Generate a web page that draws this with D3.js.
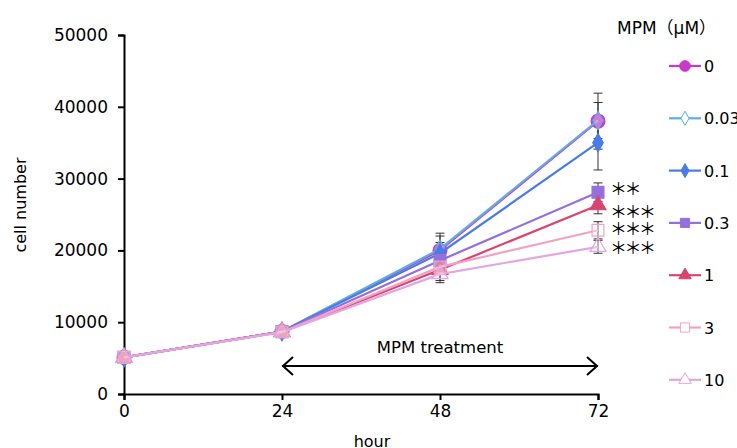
<!DOCTYPE html>
<html>
<head>
<meta charset="utf-8">
<script src="https://cdn.jsdelivr.net/npm/d3@7"></script>
<style>
body{margin:0;background:#fff;}
text{font-family:"DejaVu Sans","Noto Sans CJK JP",sans-serif;fill:#000;}
</style>
</head>
<body>
<script>
var hours = [0, 24, 48, 72];
var doses = ['0', '0.03', '0.1', '0.3', '1', '3', '10'];
var values = [
	[5100, 8700, 20000, 38000],
	[5100, 8700, 20200, 38100],
	[5100, 8700, 19600, 35000],
	[5100, 8700, 18600, 28100],
	[5100, 8650, 17300, 26300],
	[5100, 8650, 17700, 22800],
	[5100, 8600, 16700, 20500]
];
var errors = [
	[200, 350, 2400, 3900],
	[200, 350, 1800, 2500],
	[200, 350, 1500, 3800],
	[200, 350, 1500, 1300],
	[200, 350, 1500, 1200],
	[200, 350, 1600, 1200],
	[200, 350, 1200, 900]
];
var colors = ['#c939c9', '#5eaee0', '#4a7be6', '#9370db', '#d9456f', '#f2a2c2', '#e2a6e2'];
var shapes = ['circle', 'diamond', 'diamond', 'square', 'triangle', 'square', 'triangle'];
var hollow = [false, true, false, false, false, true, true];
var stars = ['', '', '', '**', '***', '***', '***'];
var yTicks = [0, 10000, 20000, 30000, 40000, 50000];

var svg = d3.select('body').append('svg').attr('width', 737).attr('height', 448);

var x = d3.scaleLinear().domain([0, 72]).range([124, 598]);
var y = d3.scaleLinear().domain([0, 50000]).range([394, 35]);

var symType = {
	circle: d3.symbolCircle,
	diamond: d3.symbolDiamond,
	square: d3.symbolSquare,
	triangle: d3.symbolTriangle
};
var symSize = {circle: 150, diamond: 95, square: 140, triangle: 110};

// axes
var xAxis = svg.append('g').attr('transform', 'translate(0,394)')
	.call(d3.axisBottom(x).tickValues(hours).tickSize(6).tickPadding(5).tickFormat(d3.format('d')));
var yAxis = svg.append('g').attr('transform', 'translate(124,0)')
	.call(d3.axisLeft(y).tickValues(yTicks).tickSize(6).tickPadding(10).tickFormat(d3.format('d')));
[xAxis, yAxis].forEach(function(a){
	a.select('.domain').attr('stroke', '#000').attr('stroke-width', 2);
	a.selectAll('.tick line').attr('stroke', '#000').attr('stroke-width', 2);
	a.selectAll('.tick text').style('font-size', '17px').style('font-family', '"DejaVu Sans",sans-serif').attr('fill', '#000');
});

svg.append('text').attr('x', 372).attr('y', 447).attr('text-anchor', 'middle')
	.style('font-size', '16px').text('hour');
svg.append('text').attr('transform', 'translate(26,205) rotate(-90)').attr('text-anchor', 'middle')
	.style('font-size', '16px').text('cell number');

// error bars
values.forEach(function(s, i){
	s.forEach(function(v, j){
		var e = errors[i][j];
		var g = svg.append('g').attr('stroke', '#333').attr('stroke-width', 1);
		g.append('line').attr('x1', x(hours[j])).attr('x2', x(hours[j])).attr('y1', y(v + e)).attr('y2', y(v - e));
		g.append('line').attr('x1', x(hours[j]) - 4.5).attr('x2', x(hours[j]) + 4.5).attr('y1', y(v + e)).attr('y2', y(v + e));
		g.append('line').attr('x1', x(hours[j]) - 4.5).attr('x2', x(hours[j]) + 4.5).attr('y1', y(v - e)).attr('y2', y(v - e));
	});
});

var line = d3.line().x(function(d, j){ return x(hours[j]); }).y(function(d){ return y(d); });

// series in order, later doses drawn on top
values.forEach(function(s, i){
	svg.append('path').datum(s).attr('d', line)
		.attr('fill', 'none').attr('stroke', colors[i]).attr('stroke-width', 2.2);
	svg.selectAll(null).data(s).enter().append('path')
		.attr('transform', function(d, j){ return 'translate(' + x(hours[j]) + ',' + y(d) + ')'; })
		.attr('d', d3.symbol().type(symType[shapes[i]]).size(symSize[shapes[i]]))
		.attr('fill', hollow[i] ? '#fff' : colors[i])
		.attr('fill-opacity', hollow[i] ? 0.3 : 1)
		.attr('stroke', colors[i]).attr('stroke-width', 1.2);
});

// significance stars
var starOffset = [0, 0, 0, -5, 5, -3, 0];
stars.forEach(function(s, i){
	if (!s) return;
	svg.append('text').attr('x', 610).attr('y', y(values[i][3]) + starOffset[i])
		.attr('dominant-baseline', 'central')
		.style('font-family', '"Noto Sans CJK JP",sans-serif')
		.style('font-size', '17px').style('letter-spacing', '-2.5px')
		.text(s.replace(/\*/g, '\uFF0A'));
});

// treatment arrow
var ay = 366;
svg.append('line').attr('x1', x(24)).attr('x2', x(72)).attr('y1', ay).attr('y2', ay)
	.attr('stroke', '#000').attr('stroke-width', 2);
svg.append('path').attr('d', 'M' + (x(24) + 11) + ',' + (ay - 9) + 'L' + (x(24) + 1) + ',' + ay + 'L' + (x(24) + 11) + ',' + (ay + 9))
	.attr('fill', 'none').attr('stroke', '#000').attr('stroke-width', 2);
svg.append('path').attr('d', 'M' + (x(72) - 11) + ',' + (ay - 9) + 'L' + (x(72) - 1) + ',' + ay + 'L' + (x(72) - 11) + ',' + (ay + 9))
	.attr('fill', 'none').attr('stroke', '#000').attr('stroke-width', 2);
svg.append('text').attr('x', (x(24) + x(72)) / 2).attr('y', 353).attr('text-anchor', 'middle')
	.style('font-size', '16.5px').text('MPM treatment');

// legend
svg.append('text').attr('x', 617).attr('y', 34).style('font-size', '17px').text('MPM\uFF08\u03BCM\uFF09');
doses.forEach(function(d, i){
	var ly = 66 + i * 52.3;
	svg.append('line').attr('x1', 669).attr('x2', 701).attr('y1', ly).attr('y2', ly)
		.attr('stroke', colors[i]).attr('stroke-width', 2.2);
	svg.append('path').attr('transform', 'translate(685,' + ly + ')')
		.attr('d', d3.symbol().type(symType[shapes[i]]).size(symSize[shapes[i]] * 0.6))
		.attr('fill', hollow[i] ? '#fff' : colors[i]).attr('stroke', colors[i]).attr('stroke-width', 1);
	svg.append('text').attr('x', 704).attr('y', ly + 6).style('font-size', '16px').text(d);
});
</script>
</body>
</html>
